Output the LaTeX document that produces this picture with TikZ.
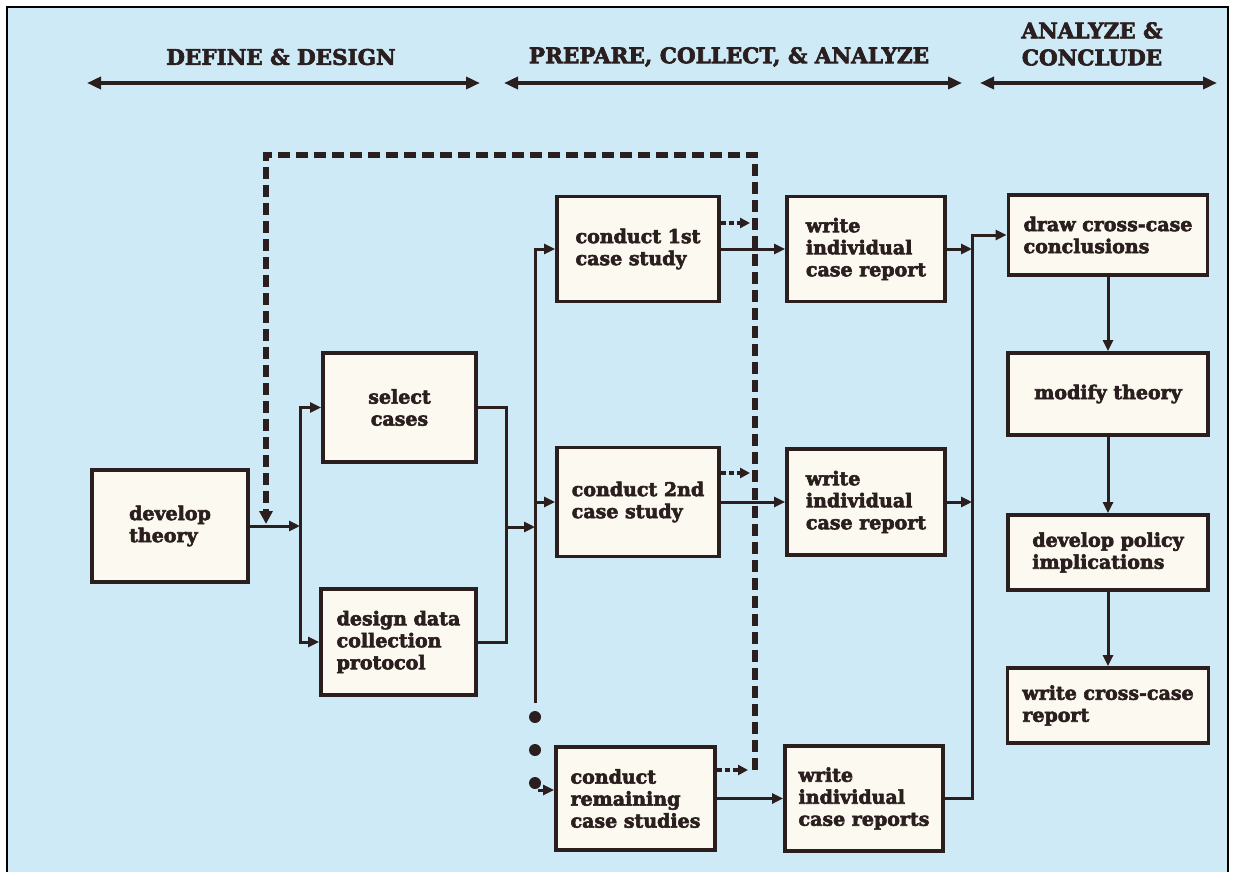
\documentclass[tikz,border=0pt]{standalone}
\usepackage{fontspec}
\setmainfont{DejaVu Serif}[BoldFeatures={FakeBold=3}]
\usetikzlibrary{arrows.meta}
\definecolor{bgblue}{RGB}{207,234,247}
\definecolor{boxfill}{RGB}{252,250,240}
\definecolor{ink}{RGB}{42,30,30}
\begin{document}
\begin{tikzpicture}[x=1pt,y=-1pt,
  box/.style={draw=ink, fill=boxfill, line width=3.8pt, inner sep=0pt, align=left,
    font=\fontsize{19}{22}\selectfont\bfseries, text=ink},
  conn/.style={draw=ink, line width=3pt, -{Triangle[length=11pt,width=10pt]}},
  plainline/.style={draw=ink, line width=3pt},
  dashbig/.style={draw=ink, line width=6pt, dash pattern=on 12pt off 6pt},
  dashsmall/.style={draw=ink, line width=3.5pt, dash pattern=on 5pt off 3pt, -{Triangle[length=10pt,width=10pt]}},
  head/.style={font=\fontsize{21.5}{27}\selectfont\bfseries, text=ink, align=center, inner sep=0pt},
  headarrow/.style={draw=ink, line width=4pt, {Triangle[length=14pt,width=12pt]}-{Triangle[length=14pt,width=12pt]}},
  dot/.style={circle, fill=ink, inner sep=0pt, minimum size=12pt},
]
\fill[white] (0,0) rectangle (1234,872);
\useasboundingbox (0,0) rectangle (1234,872);
\fill[bgblue] (7,7) rectangle (1228,872);
\draw[black, line width=2.5pt] (7,872) -- (7,7) -- (1228,7) -- (1228,872);

% headers
\node[head] (h1) at (281,57) {DEFINE \& DESIGN};
\node[head] (h2) at (729,57) {PREPARE, COLLECT, \& ANALYZE};
\node[head] (h3) at (1092,44) {ANALYZE \&\\CONCLUDE};
\coordinate (a1l) at (87,83);  \coordinate (a1r) at (480,83);
\coordinate (a2l) at (504,83); \coordinate (a2r) at (962,83);
\coordinate (a3l) at (980,83); \coordinate (a3r) at (1217,83);
\draw[headarrow] (a1l) -- (a1r);
\draw[headarrow] (a2l) -- (a2r);
\draw[headarrow] (a3l) -- (a3r);

% boxes
\node[box, minimum width=156pt, minimum height=112pt] (dev) at (170,526) {develop\\theory};
\node[box, align=center, minimum width=153pt, minimum height=109pt] (sel) at (399.5,407.5) {select\\cases};
\node[box, minimum width=155pt, minimum height=106pt] (des) at (398.5,642) {design data\\collection\\protocol};
\node[box, minimum width=162pt, minimum height=105pt] (c1) at (638,249) {conduct 1st\\case study};
\node[box, minimum width=162pt, minimum height=109pt] (c2) at (638,502) {conduct 2nd\\case study};
\node[box, minimum width=159pt, minimum height=103pt] (c3) at (635.5,798.5) {conduct\\remaining\\case studies};
\node[box, minimum width=158pt, minimum height=105pt] (w1) at (866,249) {write\\individual\\case report};
\node[box, minimum width=158pt, minimum height=106pt] (w2) at (866,502) {write\\individual\\case report};
\node[box, minimum width=158pt, minimum height=105pt] (w3) at (864,798.5) {write\\individual\\case reports};
\node[box, minimum width=199pt, minimum height=80pt] (dr) at (1108,235) {draw cross-case\\conclusions};
\node[box, align=center, minimum width=200pt, minimum height=82pt] (mo) at (1108,394) {modify theory};
\node[box, minimum width=200pt, minimum height=75pt] (po) at (1108,552.5) {develop policy\\implications};
\node[box, minimum width=201pt, minimum height=75pt] (wc) at (1108,705.5) {write cross-case\\report};

% left part
\coordinate (j1) at (300,526);
\draw[conn] (dev.east) -- (j1);
\draw[conn] (j1) |- (sel.west);
\draw[conn] (j1) |- (des.west);
\coordinate (j2) at (506,527);
\coordinate (j3) at (535,527);
\draw[plainline] (sel.east) -| (j2);
\draw[plainline] (des.east) -| (j2);
\draw[conn] (j2) -- (j3);

% bus 2
\coordinate (b2end) at (535,703);
\draw[conn] (j3) |- (c1.west);
\draw[conn] (j3) |- (c2.west);
\draw[plainline] (j3) -- (b2end);
\node[dot] (d1) at (535,717) {};
\node[dot] (d2) at (535,750) {};
\node[dot] (d3) at (535,783) {};
\coordinate (c3in) at (538,790);
\draw[conn] (c3in) -- (c3.west |- c3in);

% conduct -> write
\draw[conn] (c1.east) -- (w1.west);
\draw[conn] (c2.east) -- (w2.west);
\draw[conn] (c3.east) -- (w3.west);

% dashed feedback
\coordinate (dA) at (755,770);
\coordinate (dB) at (755,155);
\coordinate (dC) at (266,155);
\coordinate (dD) at (266,524);
\draw[dashbig, line join=miter, -{Triangle[length=13pt,width=13pt]}] (dA) -- (dB) -- (dC) -- (dD);
\coordinate (dl1) at (750,223);
\coordinate (dl2) at (750,473);
\coordinate (dl3) at (748,770);
\draw[dashsmall] (c1.east |- dl1) -- (dl1);
\draw[dashsmall] (c2.east |- dl2) -- (dl2);
\draw[dashsmall] (c3.east |- dl3) -- (dl3);

% bus 3
\coordinate (b3top) at (972,235);
\draw[conn] (w1.east) -- (w1.east -| b3top);
\draw[conn] (w2.east) -- (w2.east -| b3top);
\draw[conn] (w3.east) -| (b3top) -- (dr.west);

% right column
\draw[conn] (dr.south) -- (mo.north);
\draw[conn] (mo.south) -- (po.north);
\draw[conn] (po.south) -- (wc.north);
\end{tikzpicture}
\end{document}
